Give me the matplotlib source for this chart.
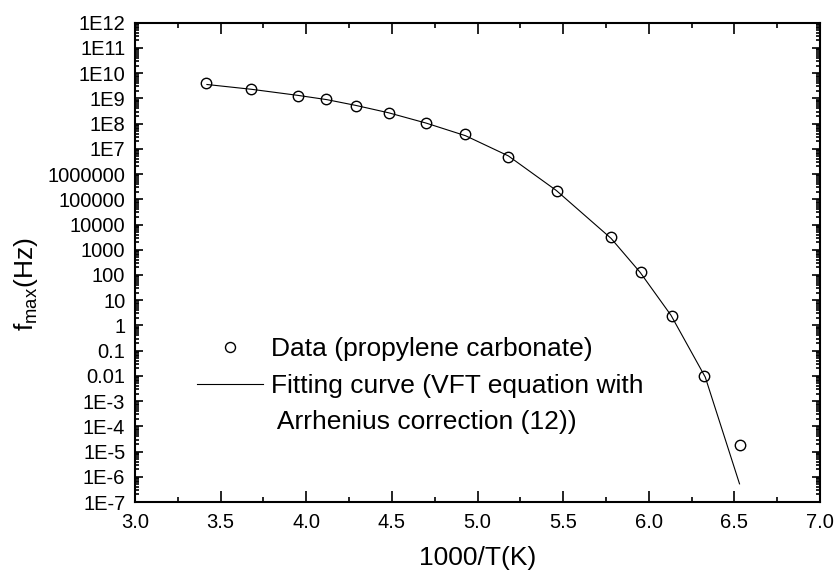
import numpy as np
import matplotlib
matplotlib.use("Agg")
import matplotlib.pyplot as plt
from matplotlib.lines import Line2D
from matplotlib.ticker import FixedLocator, LogLocator, NullFormatter, MultipleLocator

plt.rcParams['font.family'] = ['Liberation Sans', 'DejaVu Sans']

# measured points: 1000/T and log10(f_max)
data_x = [3.415, 3.676, 3.954, 4.117, 4.292, 4.483, 4.697, 4.927, 5.178, 5.462, 5.778, 5.953, 6.134, 6.325, 6.533]
data_logf = [9.60, 9.37, 9.11, 8.96, 8.70, 8.42, 8.04, 7.58, 6.68, 5.32, 3.52, 2.12, 0.38, -1.99, -4.73]

# fitting curve
fit_x = [3.42, 3.68, 3.95, 4.12, 4.29, 4.48, 4.70, 4.93, 5.18, 5.46, 5.78, 5.95, 6.13, 6.33, 6.53]
fit_logf = [9.55, 9.36, 9.12, 8.95, 8.72, 8.43, 8.02, 7.52, 6.72, 5.35, 3.45, 2.10, 0.40, -2.05, -6.28]

ytick_exp = list(range(-7, 13))
ytick_labels = ["1E-7", "1E-6", "1E-5", "1E-4", "1E-3", "0.01", "0.1", "1", "10", "100", "1000",
                "10000", "100000", "1000000", "1E7", "1E8", "1E9", "1E10", "1E11", "1E12"]

fig = plt.figure(figsize=(8.37, 5.73), dpi=100)
ax = fig.add_axes([0.1613, 0.1239, 0.8184, 0.8365])

fit_line, = ax.plot(fit_x, 10.0 ** np.array(fit_logf), color='black', lw=0.8)
data_pts, = ax.plot(data_x, 10.0 ** np.array(data_logf), 'o', mfc='none', mec='black', ms=7.5, mew=1.0)

ax.set_yscale('log')
ax.set_xlim(3.0, 7.0)
ax.set_ylim(1e-7, 1e12)
ax.yaxis.set_major_locator(FixedLocator([10.0 ** e for e in ytick_exp]))
ax.set_yticklabels(ytick_labels)
ax.yaxis.set_minor_locator(LogLocator(base=10, subs=np.arange(2, 10), numticks=100))
ax.yaxis.set_minor_formatter(NullFormatter())
ax.xaxis.set_major_locator(MultipleLocator(0.5))
ax.xaxis.set_minor_locator(MultipleLocator(0.25))
ax.xaxis.set_major_formatter(plt.FuncFormatter(lambda v, p: f"{v:.1f}"))

ax.tick_params(which='both', direction='in', top=True, right=True, labelsize=14.5, width=1.2)
ax.tick_params(axis='x', which='major', length=7.7, pad=8)
ax.tick_params(axis='x', which='minor', length=3.6)
ax.tick_params(axis='y', which='major', length=5.8, pad=7)
ax.tick_params(axis='y', which='minor', length=3)
for s in ax.spines.values():
    s.set_linewidth(1.5)

ax.set_xlabel("1000/T(K)", fontsize=19, labelpad=10)
ax.set_ylabel(r"f$_{\mathregular{max}}$(Hz)", fontsize=19)
ax.yaxis.set_label_coords(-0.138, 0.455)

blank = Line2D([], [], color='none')
data_handle = Line2D([], [], ls='none', marker='o', mfc='none', mec='black', ms=7.2, mew=1.0)
leg = ax.legend([data_handle, fit_line, blank],
                ["Data (propylene carbonate)", "Fitting curve (VFT equation with",
                 " Arrhenius correction (12))"],
                loc='upper left', bbox_to_anchor=(0.075, 0.366), frameon=False, fontsize=19,
                handlelength=2.5, handletextpad=0.3, labelspacing=0.48, borderaxespad=0)

fig.savefig("out.png", dpi=100)
